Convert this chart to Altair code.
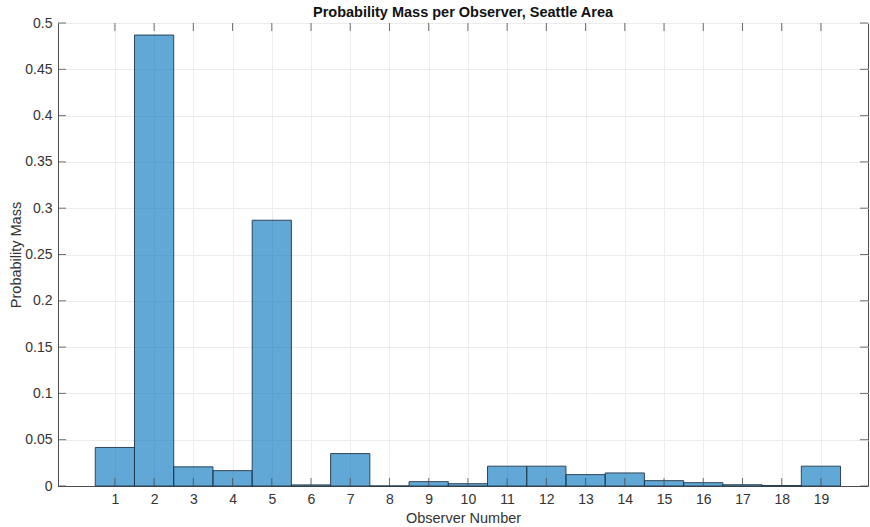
import altair as alt
import pandas as pd

# Probability mass for each observer (histogram bins centred on integers)
observers = list(range(1, 20))
mass = [0.0416, 0.487, 0.0207, 0.0166, 0.287, 0.0012, 0.035, 0.0, 0.0047,
        0.0025, 0.0214, 0.0214, 0.0123, 0.0141, 0.0058, 0.0036, 0.0014,
        0.0005, 0.0214]

y_ticks = [0, 0.05, 0.1, 0.15, 0.2, 0.25, 0.3, 0.35, 0.4, 0.45, 0.5]

x_lo, x_hi = -0.45, 20.2
y_lo, y_hi = 0.0, 0.5
W, H = 810, 463
FONT = "Liberation Sans"
AX = "#4d4d4d"

# inward tick length of 8 px, expressed in data units
tick_y = 8 * (y_hi - y_lo) / H
tick_x = 8 * (x_hi - x_lo) / W

bars_df = pd.DataFrame({"obs": observers, "mass": mass})
xt_df = pd.DataFrame({"v": observers})
yt_df = pd.DataFrame({"v": y_ticks})

xs = alt.Scale(domain=[x_lo, x_hi], nice=False, zero=False)
ys = alt.Scale(domain=[y_lo, y_hi], nice=False, zero=False)

bars = alt.Chart(bars_df).transform_calculate(
    lo="datum.obs - 0.5", hi="datum.obs + 0.5"
).mark_rect(
    fill="#0072BD", fillOpacity=0.62, stroke="#1f3548", strokeWidth=0.9
).encode(
    x=alt.X("lo:Q", scale=xs,
            axis=alt.Axis(values=observers, title="Observer Number",
                          grid=True, ticks=False, labelPadding=6,
                          titlePadding=5, titleFontWeight="normal")),
    x2="hi:Q",
    y=alt.Y("mass:Q", scale=ys,
            axis=alt.Axis(values=y_ticks, format=".2~f",
                          title="Probability Mass", grid=True, ticks=False,
                          labelPadding=6, titlePadding=1,
                          titleFontWeight="normal")),
    y2=alt.datum(0),
)

# inward ticks on bottom/top and left/right edges
xt_bottom = alt.Chart(xt_df).transform_calculate(a="0", b=str(tick_y)).mark_rule(
    color=AX, strokeWidth=0.8).encode(
    x=alt.X("v:Q", scale=xs), y=alt.Y("a:Q", scale=ys), y2="b:Q")
xt_top = alt.Chart(xt_df).transform_calculate(a=str(y_hi - tick_y), b=str(y_hi)).mark_rule(
    color=AX, strokeWidth=0.8).encode(
    x=alt.X("v:Q", scale=xs), y=alt.Y("a:Q", scale=ys), y2="b:Q")
yt_left = alt.Chart(yt_df).transform_calculate(a=str(x_lo), b=str(x_lo + tick_x)).mark_rule(
    color=AX, strokeWidth=0.8).encode(
    y=alt.Y("v:Q", scale=ys), x=alt.X("a:Q", scale=xs), x2="b:Q")
yt_right = alt.Chart(yt_df).transform_calculate(a=str(x_hi - tick_x), b=str(x_hi)).mark_rule(
    color=AX, strokeWidth=0.8).encode(
    y=alt.Y("v:Q", scale=ys), x=alt.X("a:Q", scale=xs), x2="b:Q")

chart = alt.layer(bars, xt_bottom, xt_top, yt_left, yt_right).properties(
    width=W, height=H,
    title=alt.Title("Probability Mass per Observer, Seattle Area",
                    font=FONT, fontSize=14.5, fontWeight="bold", color="#111",
                    offset=4, dy=8, anchor="middle"),
    autosize=alt.AutoSizeParams(type="none"),
    padding={"left": 58, "top": 23, "right": 2, "bottom": 41},
    background="white",
).configure_view(
    stroke=AX, strokeWidth=1
).configure_axis(
    labelFont=FONT, labelFontSize=14, labelColor="#333",
    titleFont=FONT, titleFontSize=14.5, titleFontWeight="normal", titleColor="#333",
    gridColor="#ececec", gridWidth=1,
    domainColor=AX, domainWidth=1,
)

chart.save("out.html", embed_options={"renderer": "svg", "actions": False})
